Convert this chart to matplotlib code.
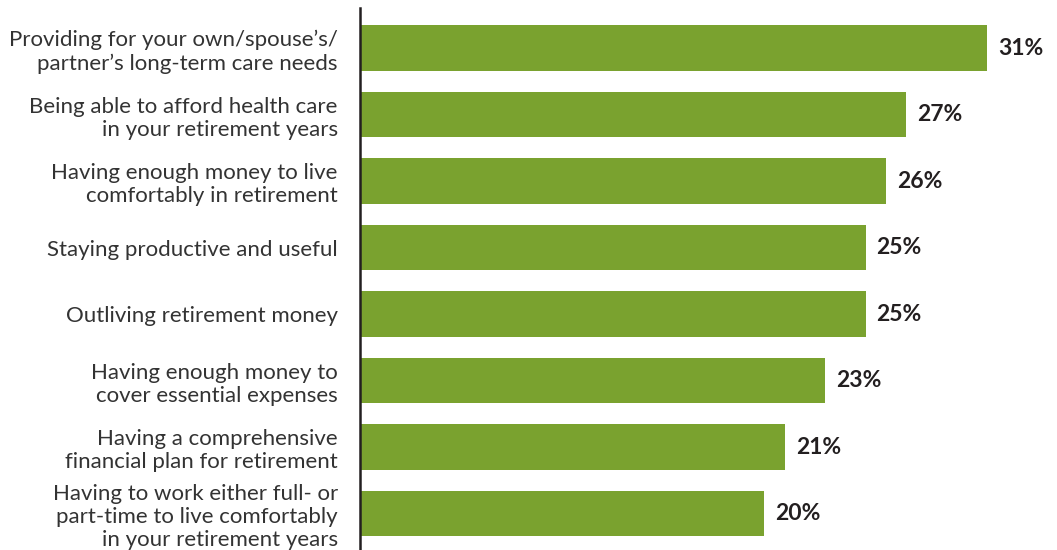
import matplotlib.pyplot as plt

labels = [
    "Providing for your own/spouse\u2019s/\npartner\u2019s long-term care needs",
    "Being able to afford health care\nin your retirement years",
    "Having enough money to live\ncomfortably in retirement",
    "Staying productive and useful",
    "Outliving retirement money",
    "Having enough money to\ncover essential expenses",
    "Having a comprehensive\nfinancial plan for retirement",
    "Having to work either full- or\npart-time to live comfortably\nin your retirement years",
]
values = [31, 27, 26, 25, 25, 23, 21, 20]

green = '#7AA22F'
plt.rcParams['font.family'] = ['Lato', 'DejaVu Sans']

fig = plt.figure(figsize=(10.57, 5.5), dpi=100)
ax = fig.add_axes([360 / 1057, 0, 1 - 360 / 1057, 1])

pos = list(range(len(values)))
ax.barh(pos, values, height=0.68, color=green)
ax.set_xlim(0, 697 / 20.22)
ax.set_ylim(502 / 66.5, -48 / 66.5)

for p, v in zip(pos, values):
    ax.text(v + 0.55, p, '%d%%' % v, va='center', ha='left',
            fontsize=16.5, fontweight='bold', color='#231F20')

ax.set_yticks(pos)
ax.set_yticklabels(labels, fontsize=16, color='#333333', linespacing=1.2)
ax.tick_params(axis='y', length=0, pad=16)
ax.set_xticks([])
for s in ['top', 'right', 'bottom']:
    ax.spines[s].set_visible(False)
ax.spines['left'].set_color('#231F20')
ax.spines['left'].set_linewidth(1.8)
ax.spines['left'].set_bounds(-0.6, 502 / 66.5)

plt.savefig('out.png', dpi=100)
